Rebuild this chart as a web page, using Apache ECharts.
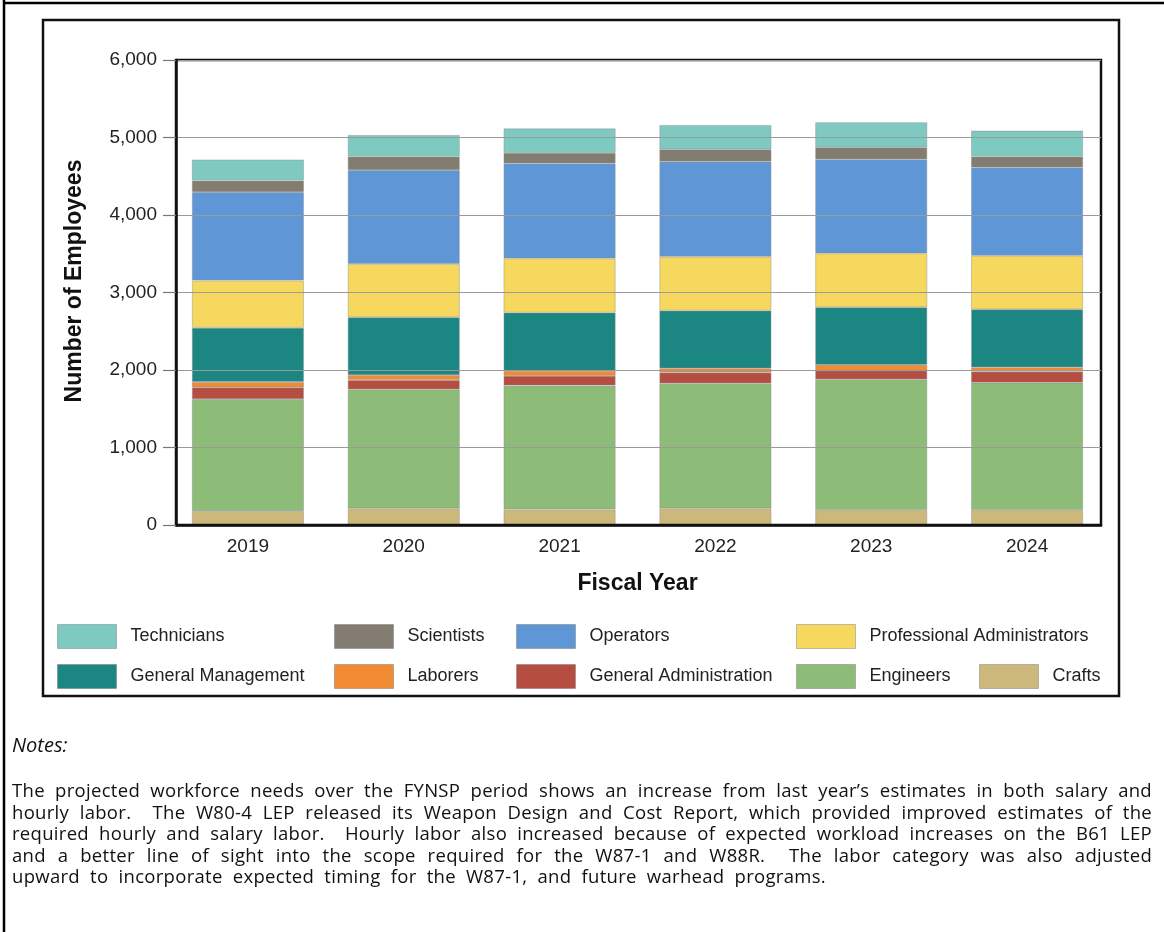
<!DOCTYPE html>
<html>
<head>
<meta charset="utf-8">
<script src="https://cdn.jsdelivr.net/npm/echarts@6/dist/echarts.min.js"></script>
<style>
  html, body { margin:0; padding:0; background:#fff; }
  #wrap { position:relative; width:1164px; height:932px; overflow:hidden; }
  #chart { position:absolute; left:0; top:0; width:1164px; height:932px; }
  #notes-title { position:absolute; left:12px; top:731px; font-family:"Open Sans", sans-serif; font-style:italic; font-size:20px; line-height:27px; color:#111; }
  #notes { position:absolute; left:12px; top:779px; width:1140px; font-family:"Open Sans", sans-serif; font-size:18.5px; letter-spacing:0.3px; line-height:21.6px; color:#111; }
  #notes div { text-align:justify; text-align-last:justify; white-space:nowrap; }
</style>
</head>
<body>
<div id="wrap">
  <div id="chart"></div>
  <div id="notes-title">Notes:</div>
  <div id="notes"></div>
</div>
<script>
const years = ['2019', '2020', '2021', '2022', '2023', '2024'];
const crafts      = [180, 215, 200, 215, 195, 195];
const engineers   = [1445, 1536, 1600, 1613, 1685, 1641];
const genAdmin    = [150, 120, 125, 138, 111, 142];
const laborers    = [70, 64, 65, 56, 74, 57];
const genMgmt     = [700, 745, 750, 744, 744, 748];
const profAdmin   = [610, 688, 700, 696, 696, 692];
const operators   = [1140, 1212, 1225, 1226, 1214, 1140];
const scientists  = [150, 172, 137, 160, 154, 137];
const technicians = [270, 280, 315, 313, 323, 336];

const seriesNames = ['Crafts', 'Engineers', 'General Administration', 'Laborers', 'General Management',
  'Professional Administrators', 'Operators', 'Scientists', 'Technicians'];
const seriesData = [crafts, engineers, genAdmin, laborers, genMgmt, profAdmin, operators, scientists, technicians];
const seriesColors = ['#cdb87c', '#8dbc78', '#b54d41', '#f08a33', '#1c8682',
  '#f6d85e', '#5f97d6', '#837d71', '#7fcac0'];

const yTicks = [0, 1000, 2000, 3000, 4000, 5000, 6000];

const noteLines = [
  'The projected workforce needs over the FYNSP period shows an increase from last year\u2019s estimates in both salary and',
  'hourly labor.\u00a0 The W80-4 LEP released its Weapon Design and Cost Report, which provided improved estimates of the',
  'required hourly and salary labor.\u00a0 Hourly labor also increased because of expected workload increases on the B61 LEP',
  'and a better line of sight into the scope required for the W87-1 and W88R.\u00a0 The labor category was also adjusted',
  'upward to incorporate expected timing for the W87-1, and future warhead programs.'
];

// legend placement: [name, left, top]
const legendLayout = [
  ['Technicians', 57, 624], ['Scientists', 334, 624], ['Operators', 516, 624], ['Professional Administrators', 796, 624],
  ['General Management', 57, 664], ['Laborers', 334, 664], ['General Administration', 516, 664], ['Engineers', 796, 664], ['Crafts', 979, 664]
];

const notesDiv = document.getElementById('notes');
noteLines.forEach((t, i) => {
  const d = document.createElement('div');
  d.textContent = t;
  if (i === noteLines.length - 1) d.style.width = '814px';
  notesDiv.appendChild(d);
});

const FONT = '"Liberation Sans", Arial, sans-serif';
const chart = echarts.init(document.getElementById('chart'), null, { renderer: 'canvas' });

const legends = legendLayout.map(([name, left, top]) => ({
  data: [name],
  left: left,
  top: top,
  orient: 'horizontal',
  itemWidth: 59,
  itemHeight: 24,
  icon: 'rect',
  selectedMode: false,
  padding: 0,
  itemStyle: { borderColor: 'rgba(120,120,120,0.45)', borderWidth: 1 },
  textStyle: { fontFamily: FONT, fontSize: 18, color: '#222', padding: [0, 0, 0, 9] }
}));

const option = {
  animation: false,
  backgroundColor: '#fff',
  graphic: [
    { type: 'line', shape: { x1: 4, y1: 0, x2: 4, y2: 932 }, style: { stroke: '#000', lineWidth: 2.5 } },
    { type: 'line', shape: { x1: 3, y1: 3, x2: 1164, y2: 3 }, style: { stroke: '#000', lineWidth: 2.5 } },
    { type: 'rect', shape: { x: 43, y: 20, width: 1076, height: 676 }, style: { fill: 'none', stroke: '#111', lineWidth: 2.5 }, z: 0 },
    { type: 'text', x: 75, y: 281, rotation: Math.PI / 2, z: 10,
      style: { text: 'Number of Employees', fontFamily: FONT, fontSize: 23, fontWeight: 'bold', fill: '#111', align: 'center', verticalAlign: 'middle' } }
  ],
  legend: legends,
  grid: [
    { left: 176, top: 60, width: 925, height: 465,
      show: true, borderColor: '#111', borderWidth: 2.5, backgroundColor: 'transparent', containLabel: false, z: 3 },
    { left: 170, top: 60, width: 935, height: 465, show: false, containLabel: false }
  ],
  xAxis: [
    { type: 'category', gridIndex: 0, data: years,
      axisLine: { show: true, lineStyle: { color: '#111', width: 2.5 } },
      axisTick: { show: false }, axisLabel: { show: false }, z: 5 },
    { type: 'category', gridIndex: 1, data: years,
      axisLine: { show: false }, axisTick: { show: false },
      axisLabel: { fontFamily: FONT, fontSize: 19, color: '#222', margin: 12 },
      name: 'Fiscal Year', nameLocation: 'middle', nameGap: 47,
      nameTextStyle: { fontFamily: FONT, fontSize: 23, fontWeight: 'bold', color: '#111' } }
  ],
  yAxis: [
    { type: 'value', gridIndex: 0, min: 0, max: 6000, interval: 1000,
      axisLine: { show: true, lineStyle: { color: '#111', width: 2.5 } },
      axisTick: { show: true, length: 13, lineStyle: { color: '#777', width: 1.2 } },
      axisLabel: { fontFamily: FONT, fontSize: 19, color: '#222', margin: 19,
        formatter: v => yTicks.includes(v) ? v.toLocaleString('en-US') : '' },
      splitLine: { show: true, lineStyle: { color: '#9a9a9a', width: 1.2 } }, z: 5 },
    { type: 'value', gridIndex: 1, min: 0, max: 6000, interval: 1000, show: false,
      splitLine: { show: false } }
  ],
  series: seriesNames.map((name, i) => ({
    name: name,
    type: 'bar',
    xAxisIndex: 1,
    yAxisIndex: 1,
    stack: 'total',
    barWidth: 112,
    data: seriesData[i],
    itemStyle: { color: seriesColors[i], borderColor: 'rgba(140,140,140,0.55)', borderWidth: 0.8 },
    emphasis: { disabled: true }
  }))
};
chart.setOption(option);
</script>
</body>
</html>
